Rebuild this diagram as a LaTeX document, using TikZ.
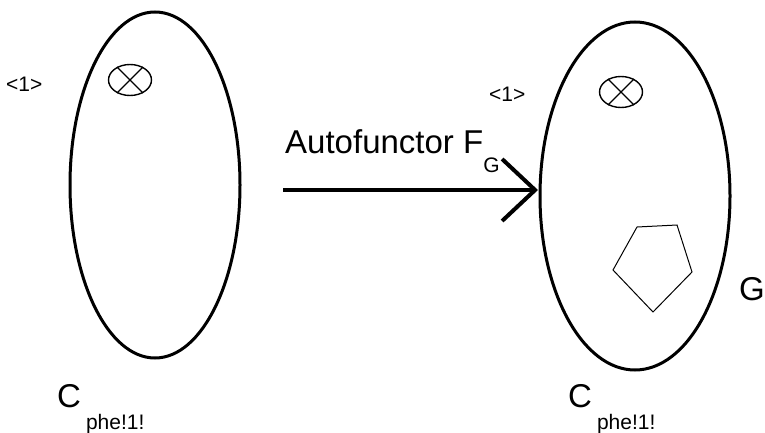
\documentclass[tikz,border=0pt]{standalone}
\usepackage{fontspec}
\setmainfont{Liberation Sans}
\usetikzlibrary{shapes.geometric,arrows.meta}
\tikzset{
  catoval/.style={ellipse, draw, line width=3pt, inner sep=0pt},
  tensor/.style={ellipse, draw, line width=1.4pt, minimum width=43pt, minimum height=31pt, inner sep=0pt},
  bigtext/.style={font=\fontsize{33}{36}\selectfont, inner sep=0pt, anchor=base west},
  smalltext/.style={font=\fontsize{21}{22}\selectfont, inner sep=0pt, anchor=base west},
}
\newcommand{\catname}{C\hspace{5pt}\raisebox{-22pt}{\fontsize{21}{21}\selectfont phe!1!}}
\begin{document}
\begin{tikzpicture}[x=1pt, y=-1pt]
\useasboundingbox (0,0) rectangle (765,433);
% left category
\node[catoval, minimum width=170pt, minimum height=346pt] (catL) at (155,185) {};
\node[tensor] (tenL) at (130,80) {};
\draw[line width=1.2pt] (tenL.135) -- (tenL.315) (tenL.45) -- (tenL.225);
\node[smalltext] (oneL) at (6,92) {<1>};
\node[bigtext] (nameL) at (57,407) {\catname};
% right category
\node[catoval, minimum width=190pt, minimum height=348pt] (catR) at (635,196) {};
\node[tensor] (tenR) at (621,92) {};
\draw[line width=1.2pt] (tenR.135) -- (tenR.315) (tenR.45) -- (tenR.225);
\node[smalltext] (oneR) at (489,102) {<1>};
\node[bigtext] (nameR) at (568,407) {\catname};
\draw[line width=1pt] (637,227) -- (677,225) -- (692,272) -- (653,312) -- (613,270) -- cycle;
\node[bigtext] (gR) at (739,300) {G};
% the functor
\coordinate (fstart) at (283,190);
\coordinate (fend) at (538,190);
\draw[line width=4pt, -{Straight Barb[length=33pt, width=62pt, line width=4pt]}] (fstart) -- (fend);
\node[bigtext] (ftext) at (285,153) {Autofunctor F\raisebox{-20pt}{\fontsize{21}{21}\selectfont G}};
\end{tikzpicture}
\end{document}
